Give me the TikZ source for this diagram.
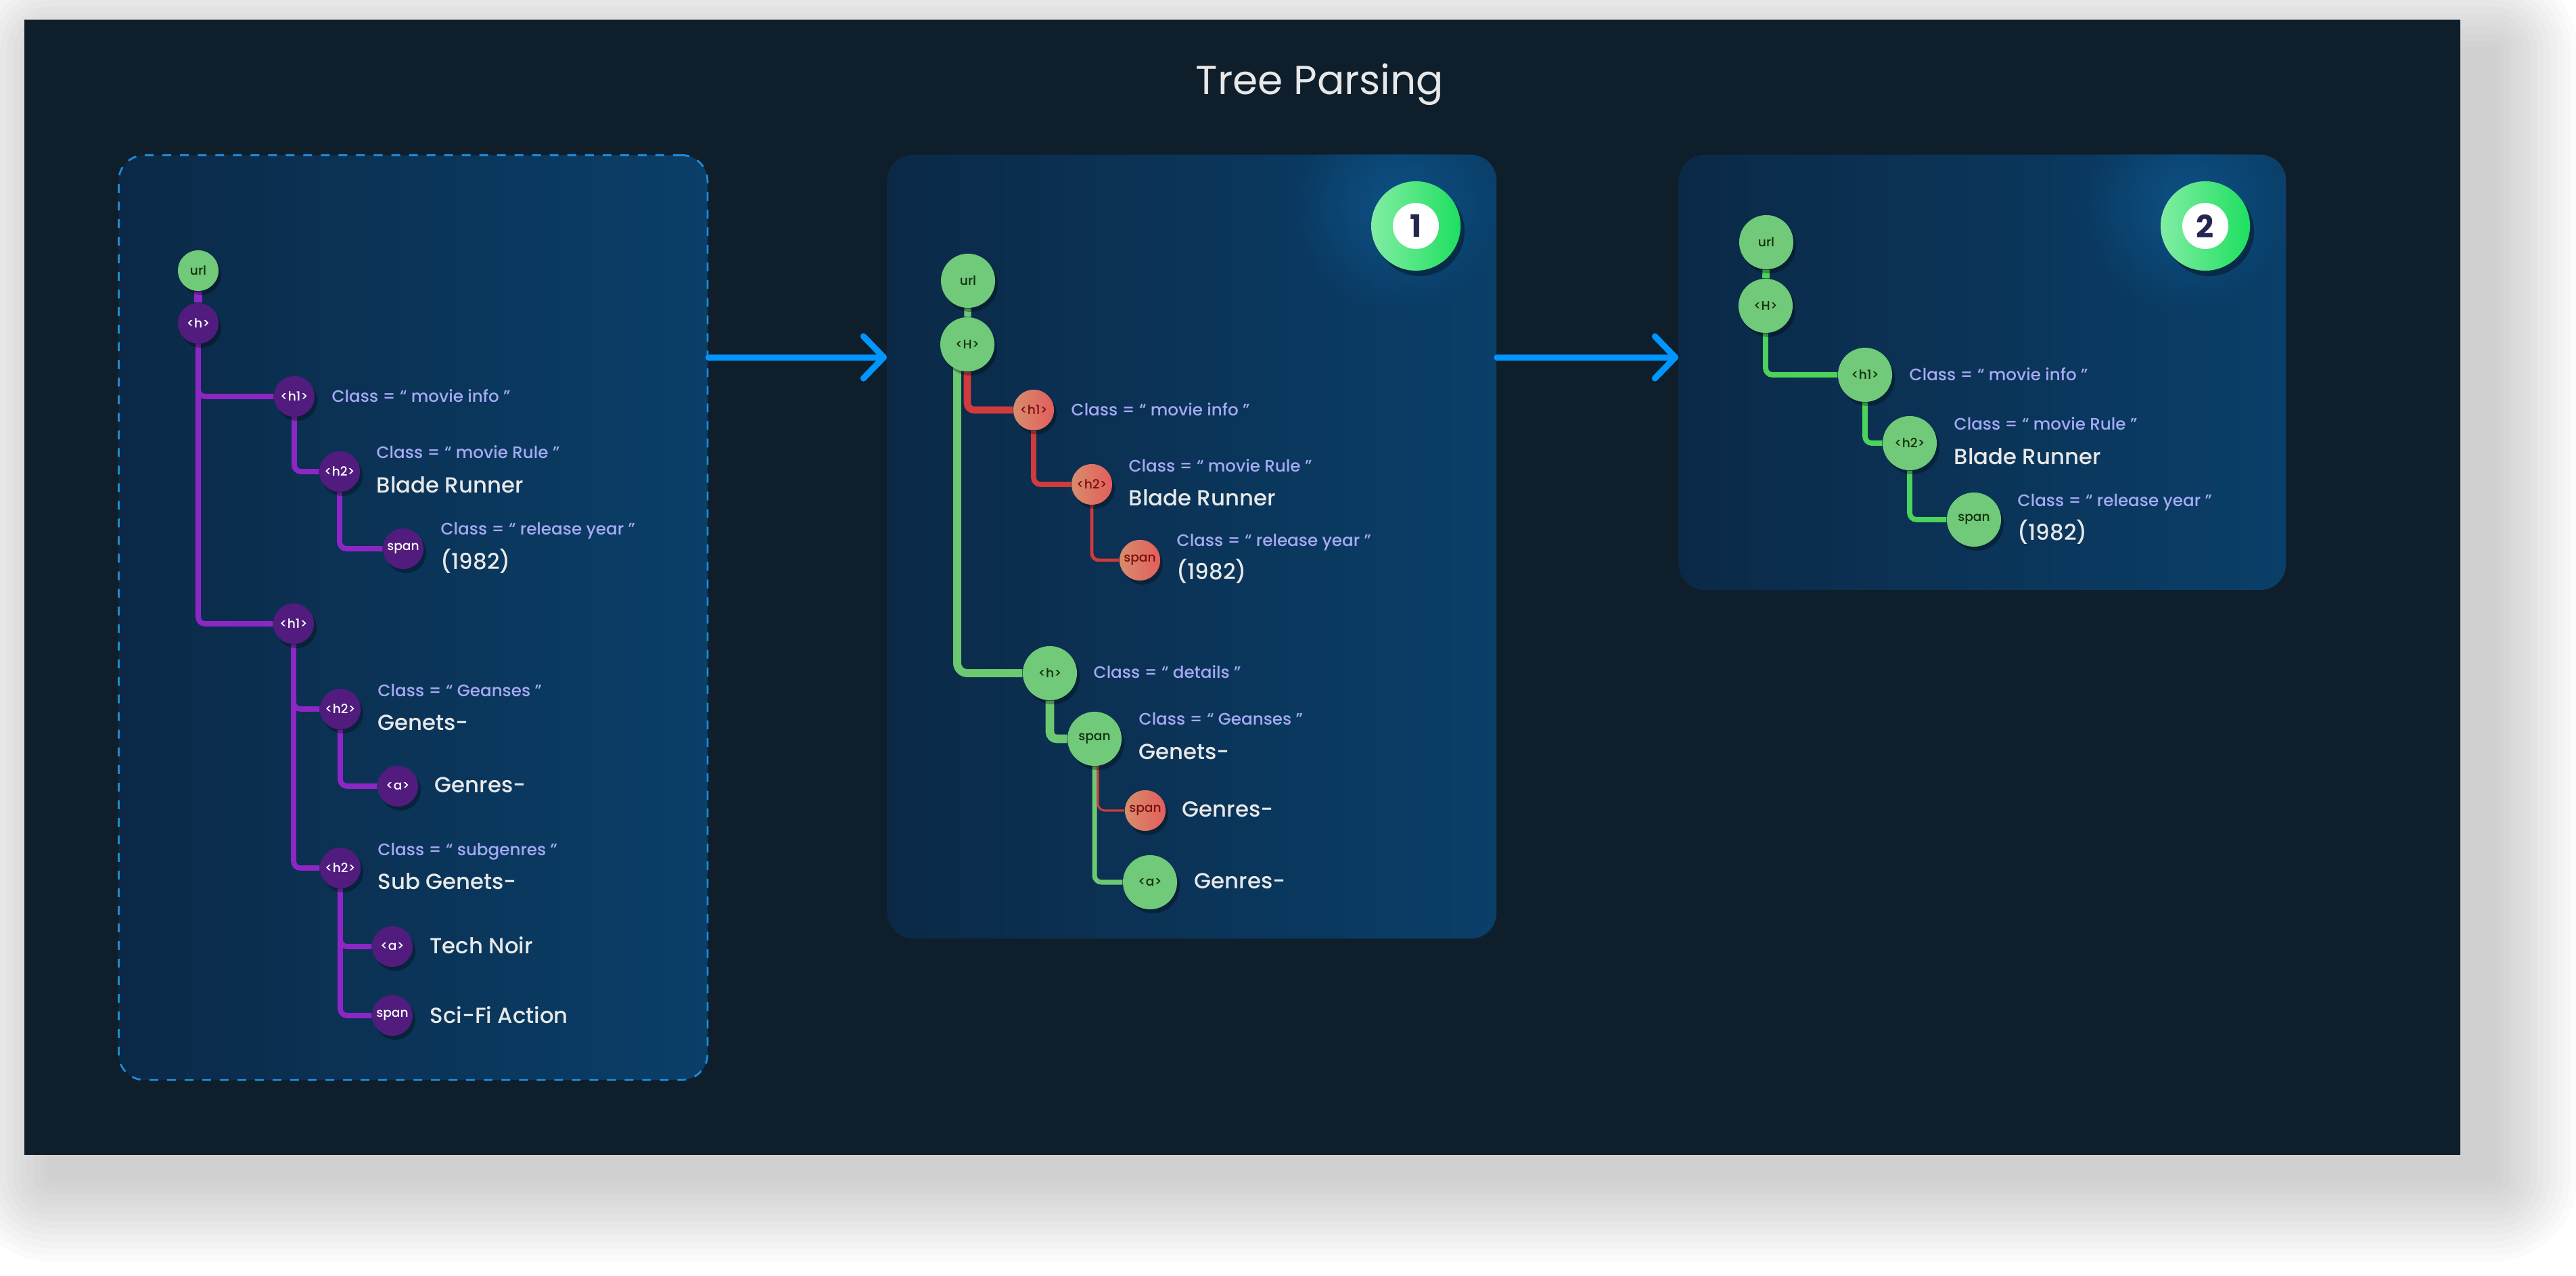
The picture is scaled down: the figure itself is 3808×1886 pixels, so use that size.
\documentclass[tikz,border=0pt]{standalone}
\usepackage{fontspec}
\setmainfont{Poppins}
\newfontfamily\clsfont{Poppins Medium}
\newfontfamily\valfont{Poppins Medium}
\usetikzlibrary{positioning, shadows, arrows.meta, fadings}

\definecolor{bgdark}{HTML}{0E1E2B}
\definecolor{panelA}{HTML}{0B2947}
\definecolor{panelB}{HTML}{0A3F69}
\definecolor{dashblue}{HTML}{1E8AD6}
\definecolor{flowblue}{HTML}{0096FF}
\definecolor{tagpurple}{HTML}{511C7E}
\definecolor{linepurple}{HTML}{8E26C6}
\definecolor{taggreen}{HTML}{70CA79}
\definecolor{greendark}{HTML}{14300E}
\definecolor{linegreen}{HTML}{6CC96F}
\definecolor{brightgreen}{HTML}{4CD35A}
\definecolor{redA}{HTML}{D88C6C}
\definecolor{redB}{HTML}{E25E5C}
\definecolor{reddark}{HTML}{7A0F0F}
\definecolor{linered}{HTML}{D03B3B}
\definecolor{classtext}{HTML}{A6A9F5}
\definecolor{valtext}{HTML}{E8E8E8}
\definecolor{badgeA}{HTML}{82EDA3}
\definecolor{badgeB}{HTML}{1DDF5F}
\definecolor{digit}{HTML}{23264F}
\definecolor{glowblue}{HTML}{0F5A94}

\pgfdeclarelayer{back}
\pgfdeclarelayer{wires}
\pgfsetlayers{back,wires,main}

\tikzfading[name=glowfade, inner color=transparent!30, outer color=transparent!100]

\begin{document}
\begin{tikzpicture}[
        x=0.01cm, y=-0.01cm,
        tag/.style={
            circle, minimum size=0.6cm, inner sep=0pt,
            font=\clsfont\fontsize{5.3}{6}\selectfont,
            drop shadow={opacity=0.3, fill=black, shadow xshift=0.04cm, shadow yshift=-0.06cm}
        },
        purpletag/.style={tag, fill=tagpurple, text=white},
        greentag/.style={tag, fill=taggreen, text=greendark},
        redtag/.style={tag, left color=redA, right color=redB, text=reddark},
        big/.style={minimum size=0.8cm},
        cls/.style={anchor=base west, inner sep=0pt, text=classtext, font=\clsfont\fontsize{7}{8}\selectfont},
        val/.style={anchor=base west, inner sep=0pt, text=valtext, font=\valfont\fontsize{9.2}{10}\selectfont},
        panel/.style={rounded corners=0.38cm, left color=panelA, right color=panelB, anchor=north west, inner sep=0pt},
        wire/.style={line width=2.2pt, rounded corners=0.1cm},
        flow/.style={-{Straight Barb[length=0.3cm, width=0.62cm, round]}, line width=2.6pt, flowblue, line cap=round},
        badge/.style={
            circle, minimum size=1.32cm, inner sep=0pt, left color=badgeA, right color=badgeB,
            drop shadow={opacity=0.35, fill=black, shadow xshift=0.06cm, shadow yshift=-0.08cm}
        },
        badgenum/.style={circle, fill=white, minimum size=0.68cm, inner sep=0pt, text=digit, font=\bfseries\fontsize{13}{14}\selectfont},
        title/.style={anchor=base, text=valtext, font=\fontsize{17}{20}\selectfont}
    ]
    \useasboundingbox (0,0) rectangle (3808,1886);

    \begin{pgfonlayer}{back}
        % soft shadow of the card
        \foreach \d [evaluate=\d as \r using \d*0.01+0.05] in {0,10,...,120}
            \fill[black, opacity=0.016, rounded corners=\r cm] (70-\d,70-\d) rectangle (3690+\d,1745+\d);
        \fill[bgdark] (36,29) rectangle (3637,1707);

        \node[panel, draw=dashblue, dash pattern=on 3.7pt off 3.7pt, line width=0.8pt,
              minimum width=8.7cm, minimum height=13.66cm] (lpanel) at (174,228) {};
        \node[panel, minimum width=9cm, minimum height=11.58cm] (mpanel) at (1311,228) {};
        \node[panel, minimum width=8.97cm, minimum height=6.43cm] (rpanel) at (2481,228) {};
    \end{pgfonlayer}

    \node[title] (title) at (1951,140) {Tree Parsing};

    % left tree
    \node[greentag] (lurl) at (293,400) {url};
    \node[purpletag] (lh) at (293,478) {<h>};
    \node[purpletag] (lh1) at (435,586) {<h1>};
    \node[purpletag] (lh2) at (502,697) {<h2>};
    \node[purpletag] (lspan) at (596,811) {span};
    \node[purpletag] (lh1b) at (434,922) {<h1>};
    \node[purpletag] (lgen) at (503,1048) {<h2>};
    \node[purpletag] (lgenre) at (588,1162) {<a>};
    \node[purpletag] (lsub) at (503,1283) {<h2>};
    \node[purpletag] (ltech) at (580,1399) {<a>};
    \node[purpletag] (lsci) at (580,1501) {span};

    \node[cls] at (490,595) {Class = “ movie info ”};
    \node[cls] at (556,678) {Class = “ movie Rule ”};
    \node[val] at (556,729) {Blade Runner};
    \node[cls] at (651,791) {Class = “ release year ”};
    \node[val] at (651,842) {(1982)};
    \node[cls] at (558,1030) {Class = “ Geanses ”};
    \node[val] at (558,1080) {Genets-};
    \node[val] at (642,1172) {Genres-};
    \node[cls] at (558,1265) {Class = “ subgenres ”};
    \node[val] at (558,1315) {Sub Genets-};
    \node[val] at (635,1410) {Tech Noir};
    \node[val] at (635,1513) {Sci-Fi Action};

    % middle tree
    \node[greentag, big] (murl) at (1431,415) {url};
    \node[greentag, big] (mH) at (1430,509) {<H>};
    \node[redtag] (mh1) at (1528,606) {<h1>};
    \node[redtag] (mh2) at (1614,716) {<h2>};
    \node[redtag] (mspan) at (1685,828) {span};
    \node[greentag, big] (mh) at (1552,995) {<h>};
    \node[greentag, big] (mgen) at (1618,1092) {span};
    \node[redtag] (mgenre) at (1693,1198) {span};
    \node[greentag, big] (ma) at (1700,1304) {<a>};

    \node[cls] at (1583,615) {Class = “ movie info ”};
    \node[cls] at (1668,698) {Class = “ movie Rule ”};
    \node[val] at (1668,748) {Blade Runner};
    \node[cls] at (1739,808) {Class = “ release year ”};
    \node[val] at (1739,857) {(1982)};
    \node[cls] at (1616,1003) {Class = “ details ”};
    \node[cls] at (1683,1072) {Class = “ Geanses ”};
    \node[val] at (1683,1123) {Genets-};
    \node[val] at (1747,1208) {Genres-};
    \node[val] at (1765,1314) {Genres-};

    \node[badge] (mbadge) at (2093,334) {};
    \node[badgenum] (mnum) at (mbadge) {1};

    % right tree
    \node[greentag, big] (rurl) at (2611,358) {url};
    \node[greentag, big] (rH) at (2610,452) {<H>};
    \node[greentag, big] (rh1) at (2757,554) {<h1>};
    \node[greentag, big] (rh2) at (2823,655) {<h2>};
    \node[greentag, big] (rspan) at (2918,768) {span};

    \node[cls] at (2822,563) {Class = “ movie info ”};
    \node[cls] at (2888,636) {Class = “ movie Rule ”};
    \node[val] at (2888,687) {Blade Runner};
    \node[cls] at (2982,749) {Class = “ release year ”};
    \node[val] at (2982,799) {(1982)};

    \node[badge] (rbadge) at (3260,334) {};
    \node[badgenum] (rnum) at (rbadge) {2};

    \begin{pgfonlayer}{back}
        \begin{scope}
            \clip[rounded corners=0.38cm] (mpanel.north west) rectangle (mpanel.south east);
            \fill[glowblue, path fading=glowfade] ([shift={(-0.3cm,0.3cm)}]mbadge.center) circle (1.6cm);
        \end{scope}
        \begin{scope}
            \clip[rounded corners=0.38cm] (rpanel.north west) rectangle (rpanel.south east);
            \fill[glowblue, path fading=glowfade] ([shift={(-0.3cm,0.3cm)}]rbadge.center) circle (1.6cm);
        \end{scope}
    \end{pgfonlayer}

    \begin{pgfonlayer}{wires}
        \draw[wire, linepurple, line width=3.4pt] (lurl) -- (lh);
        \draw[wire, linepurple] (lh) |- (lh1);
        \draw[wire, linepurple] (lh) |- (lh1b);
        \draw[wire, linepurple] (lh1) |- (lh2);
        \draw[wire, linepurple] (lh2) |- (lspan);
        \draw[wire, linepurple] (lh1b) |- (lgen);
        \draw[wire, linepurple] (lh1b) |- (lsub);
        \draw[wire, linepurple] (lgen) |- (lgenre);
        \draw[wire, linepurple] (lsub) |- (ltech);
        \draw[wire, linepurple] (lsub) |- (lsci);

        \draw[wire, linegreen, line width=2.9pt] (murl) -- (mH);
        \draw[wire, linegreen, line width=3.4pt, rounded corners=0.15cm] ([xshift=-0.15cm]mH.center) |- (mh);
        \draw[wire, linered, line width=3pt] (mH) |- (mh1);
        \draw[wire, linered] (mh1) |- (mh2);
        \draw[wire, linered, line width=1.4pt] (mh2) |- (mspan);
        \draw[wire, linegreen, line width=3.6pt] (mh) |- (mgen);
        \draw[wire, linegreen, line width=2pt] (mgen) |- (ma);
        \draw[wire, linered, line width=0.9pt] ([xshift=0.05cm]mgen.center) |- (mgenre);

        \draw[wire, brightgreen, line width=3pt] (rurl) -- (rH);
        \draw[wire, brightgreen] (rH) |- (rh1);
        \draw[wire, brightgreen] (rh1) |- (rh2);
        \draw[wire, brightgreen] (rh2) |- (rspan);
    \end{pgfonlayer}

    \draw[flow] ([yshift=-3cm]lpanel.north east) -- ([yshift=-3cm]mpanel.north west);
    \draw[flow] ([yshift=-3cm]mpanel.north east) -- ([yshift=-3cm]rpanel.north west);
\end{tikzpicture}
\end{document}
